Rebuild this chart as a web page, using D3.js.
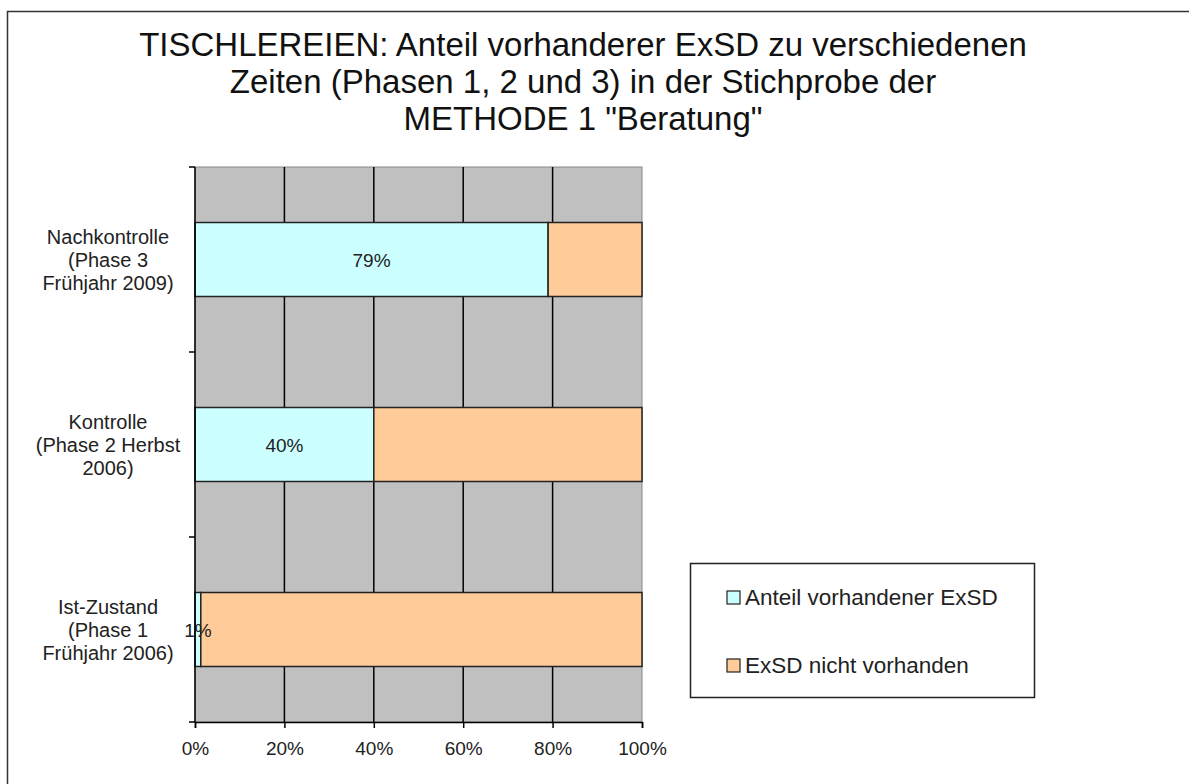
<!DOCTYPE html>
<html>
<head>
<meta charset="utf-8">
<script src="https://cdn.jsdelivr.net/npm/d3@7"></script>
<style>
  body { margin: 0; background: #fff; }
  svg { display: block; font-family: "Liberation Sans", Arial, sans-serif; }
</style>
</head>
<body>
<svg width="1189" height="784"></svg>
<script>
// data (top to bottom)
var categories = ["Nachkontrolle|(Phase 3|Frühjahr 2009)", "Kontrolle|(Phase 2 Herbst|2006)", "Ist-Zustand|(Phase 1|Frühjahr 2006)"];
var vorhanden = [79, 40, 1.3];
var nichtVorhanden = [21, 60, 98.7];
var seriesNames = ["Anteil vorhandener ExSD", "ExSD nicht vorhanden"];
var seriesColors = ["#ccffff", "#ffcc99"];
var xTicks = [0, 20, 40, 60, 80, 100];
var titleLines = ["TISCHLEREIEN: Anteil vorhanderer ExSD zu verschiedenen", "Zeiten (Phasen 1, 2 und 3) in der Stichprobe der", "METHODE 1 \"Beratung\""];

var svg = d3.select("svg");

// outer chart frame
svg.append("rect")
  .attr("x", 7.5).attr("y", 11.5)
  .attr("width", 1200).attr("height", 800)
  .attr("fill", "#fff").attr("stroke", "#333").attr("stroke-width", 1.5);

svg.append("g").selectAll("text")
  .data(titleLines)
  .enter()
  .append("text")
  .attr("x", 583)
  .attr("y", (d, i) => 56 + i * 37)
  .attr("text-anchor", "middle")
  .attr("font-size", 33)
  .attr("fill", "#111")
  .text((d) => d);

var pLeft = 195, pRight = 642, pTop = 167, pBottom = 722;

var x = d3.scaleLinear().domain([0, 100]).range([pLeft, pRight]);
var y = d3.scaleBand().domain(categories).range([pTop, pBottom]).paddingInner(0.6).paddingOuter(0.3);

var rows = categories.map((c, i) => ({ cat: c, a: vorhanden[i], b: nichtVorhanden[i] }));
var stack = d3.stack().keys(["a", "b"])(rows);

var g = svg.append("g");

g.append("rect")
  .attr("x", pLeft).attr("y", pTop)
  .attr("width", pRight - pLeft).attr("height", pBottom - pTop)
  .attr("fill", "#c0c0c0").attr("stroke", "#888");

// vertical gridlines
g.selectAll("line.grid")
  .data(xTicks.slice(1, -1))
  .enter()
  .append("line")
  .attr("class", "grid")
  .attr("x1", (d) => x(d)).attr("x2", (d) => x(d))
  .attr("y1", pTop).attr("y2", pBottom)
  .attr("stroke", "#000").attr("stroke-width", 1.5);

g.selectAll("g.series")
  .data(stack)
  .enter()
  .append("g")
  .attr("class", "series")
  .attr("fill", (d, i) => seriesColors[i])
  .selectAll("rect")
  .data((d) => d)
  .enter()
  .append("rect")
  .attr("x", (d) => x(d[0]))
  .attr("y", (d) => y(d.data.cat))
  .attr("width", (d) => x(d[1]) - x(d[0]))
  .attr("height", y.bandwidth())
  .attr("stroke", "#222")
  .attr("stroke-width", 1.5);

// value labels for first series
g.selectAll("text.val")
  .data(stack[0])
  .enter()
  .append("text")
  .attr("class", "val")
  .attr("x", (d) => Math.max((x(d[0]) + x(d[1])) / 2, 198))
  .attr("y", (d) => y(d.data.cat) + y.bandwidth() / 2 + 7)
  .attr("text-anchor", "middle")
  .attr("font-size", 19)
  .attr("fill", "#222")
  .text((d) => Math.round(d.data.a) + "%");

// x axis
var xAxis = d3.axisBottom(x).tickValues(xTicks).tickFormat((d) => d + "%").tickSize(6).tickPadding(14);
var xg = svg.append("g").attr("transform", "translate(0," + pBottom + ")").call(xAxis);
xg.select(".domain").attr("stroke", "#000").attr("stroke-width", 1.5);
xg.selectAll(".tick line").attr("stroke", "#000").attr("stroke-width", 1.5);
xg.selectAll(".tick text").attr("font-size", 19).attr("fill", "#222").attr("font-family", "Liberation Sans, Arial, sans-serif");

// y axis line and ticks at band boundaries
var yBounds = [0, 1, 2, 3].map((i) => pTop + i * (pBottom - pTop) / 3);
svg.append("line")
  .attr("x1", pLeft).attr("x2", pLeft).attr("y1", pTop).attr("y2", pBottom)
  .attr("stroke", "#000").attr("stroke-width", 1.5);
svg.selectAll("line.ytick")
  .data(yBounds)
  .enter()
  .append("line")
  .attr("class", "ytick")
  .attr("x1", pLeft - 6).attr("x2", pLeft)
  .attr("y1", (d) => d).attr("y2", (d) => d)
  .attr("stroke", "#000").attr("stroke-width", 1.5);

// category labels
svg.selectAll("text.cat")
  .data(categories)
  .enter()
  .append("text")
  .attr("class", "cat")
  .attr("text-anchor", "middle")
  .attr("font-size", 20)
  .attr("fill", "#222")
  .each(function (d) {
    var lines = d.split("|");
    var cy = y(d) + y.bandwidth() / 2;
    d3.select(this).selectAll("tspan")
      .data(lines)
      .enter()
      .append("tspan")
      .attr("x", 108)
      .attr("y", (l, i) => cy + (i - 1) * 23 + 7)
      .text((l) => l);
  });

// legend
var lg = svg.append("g");
lg.append("rect")
  .attr("x", 690.5).attr("y", 563.5)
  .attr("width", 344).attr("height", 134)
  .attr("fill", "#fff").attr("stroke", "#222").attr("stroke-width", 1.5);
var items = lg.selectAll("g.item")
  .data(seriesNames)
  .enter()
  .append("g")
  .attr("transform", (d, i) => "translate(727," + (597 + i * 68) + ")");
items.append("rect")
  .attr("x", 0).attr("y", -6)
  .attr("width", 13).attr("height", 13)
  .attr("fill", (d, i) => seriesColors[i])
  .attr("stroke", "#222").attr("stroke-width", 1.2);
items.append("text")
  .attr("x", 18).attr("y", 8)
  .attr("font-size", 22.5)
  .attr("fill", "#222")
  .text((d) => d);
</script>
</body>
</html>
